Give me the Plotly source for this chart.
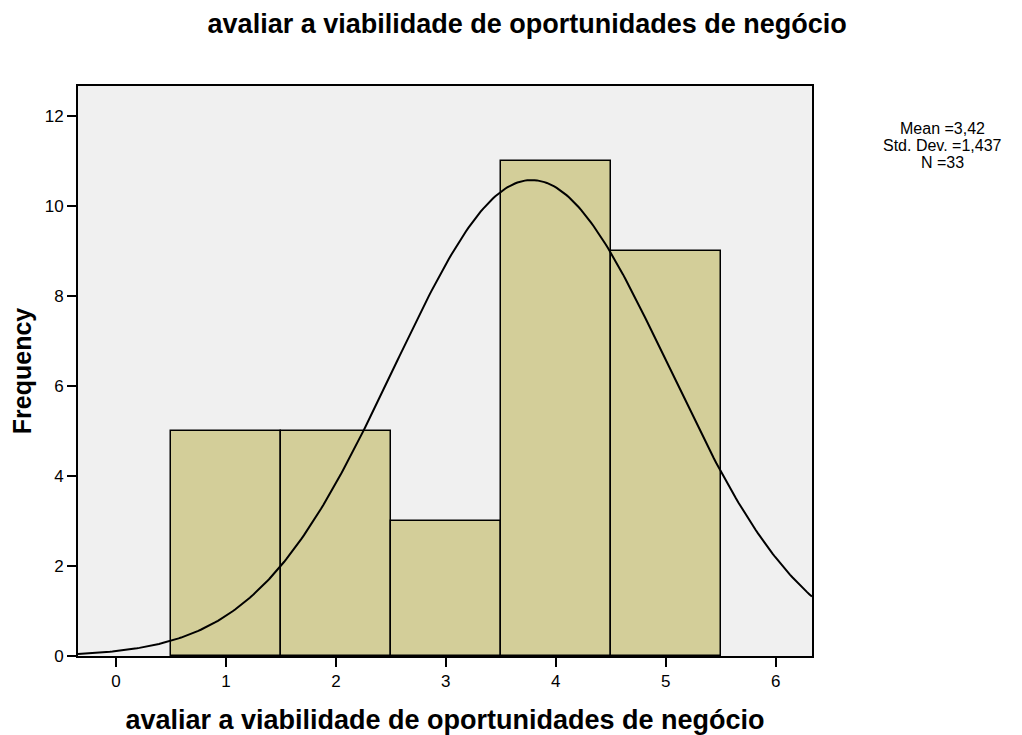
import numpy as np
import plotly.graph_objects as go

# histogram bins (centres) and counts
bin_centers = [1, 2, 3, 4, 5]
counts = [5, 5, 3, 11, 9]

# summary shown at the right, one line each
stats_lines = ["Mean =3,42", "Std. Dev. =1,437", "N =33"]

curve_center = 3.78
curve_sd = 1.25
curve_peak = 10.58

x_range = [-0.345, 6.33]
y_range = [0, 12.67]

fig = go.Figure()

fig.add_trace(go.Bar(
    x=bin_centers,
    y=counts,
    width=1,
    marker=dict(color="#D3CE99", line=dict(color="black", width=1.5)),
    showlegend=False,
))

xc = np.linspace(x_range[0], x_range[1], 300)
yc = curve_peak * np.exp(-0.5 * ((xc - curve_center) / curve_sd) ** 2)
fig.add_trace(go.Scatter(
    x=xc, y=yc, mode="lines",
    line=dict(color="black", width=2),
    showlegend=False,
))

# the page body has an 8px margin, so the figure is offset by that
fig.update_layout(
    width=1022, height=735,
    margin=dict(l=70, r=218, t=78, b=87, autoexpand=False),
    paper_bgcolor="white",
    plot_bgcolor="#F0F0F0",
    font=dict(family="Liberation Sans, Arial", color="black"),
    title=dict(
        text="<b>avaliar a viabilidade de oportunidades de negócio</b>",
        x=0.508, xanchor="center", y=0.979, yanchor="middle",
        font=dict(size=27),
    ),
    bargap=0,
)

fig.update_xaxes(
    range=x_range, tickvals=[0, 1, 2, 3, 4, 5, 6],
    ticks="outside", ticklen=9, tickwidth=2, tickcolor="black",
    tickfont=dict(size=17),
    showgrid=False, zeroline=False, automargin=False,
    showline=True, linecolor="black", linewidth=2, mirror=True,
    title=dict(text="<b>avaliar a viabilidade de oportunidades de negócio</b>",
               font=dict(size=27), standoff=20),
)
fig.update_yaxes(
    range=y_range, tickvals=[0, 2, 4, 6, 8, 10, 12],
    ticks="outside", ticklen=9, tickwidth=2, tickcolor="black",
    tickfont=dict(size=17),
    showgrid=False, zeroline=False, automargin=False,
    showline=True, linecolor="black", linewidth=2, mirror=True,
    title=dict(text="<b>Frequency</b>", font=dict(size=25), standoff=20),
)

for line, ypos in zip(stats_lines, [0.926, 0.895, 0.865]):
    fig.add_annotation(
        text=line, xref="paper", yref="paper",
        x=1.178, y=ypos, xanchor="center", yanchor="middle",
        showarrow=False, font=dict(size=16),
    )

fig.write_html("out.html")
